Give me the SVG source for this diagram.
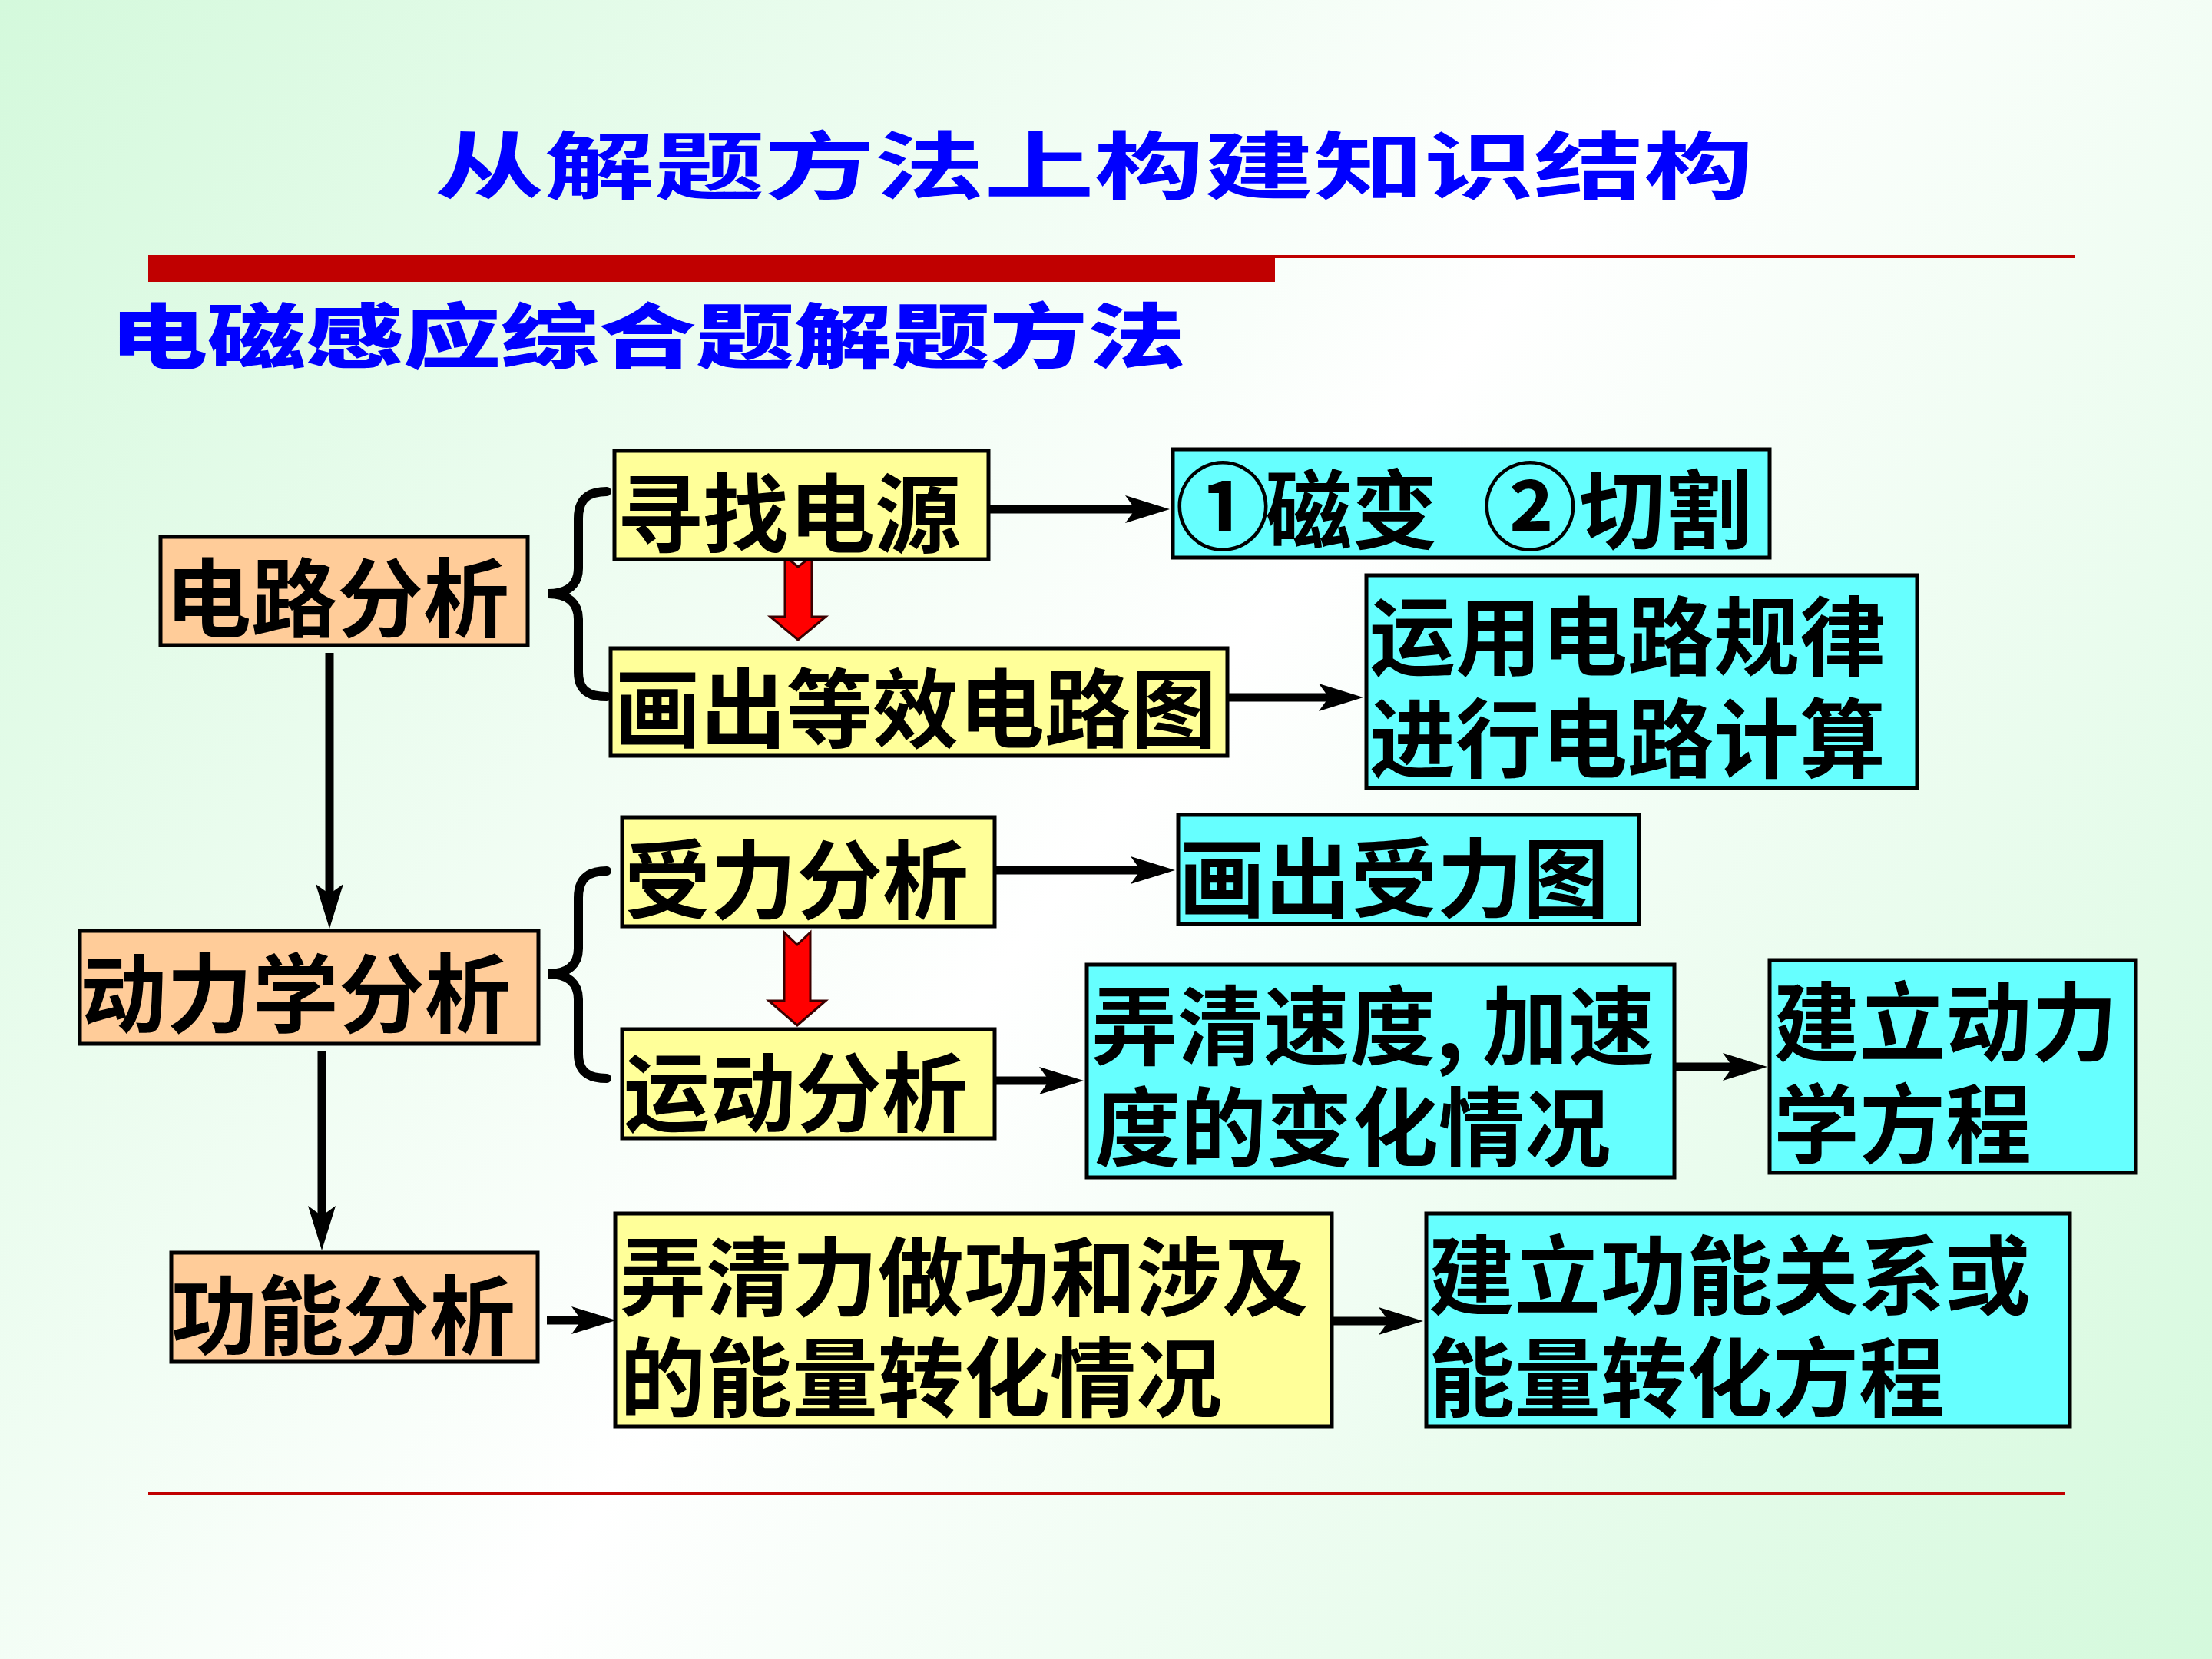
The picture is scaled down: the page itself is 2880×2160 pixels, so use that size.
<svg xmlns="http://www.w3.org/2000/svg" width="2880" height="2160" viewBox="0 0 2880 2160">
<defs>
<linearGradient id="bg" x1="0" y1="0" x2="2880" y2="2160" gradientUnits="userSpaceOnUse">
<stop offset="0" stop-color="#D4F9DC"/>
<stop offset="0.5" stop-color="#FFFFFF"/>
<stop offset="1" stop-color="#D4F9DC"/>
</linearGradient>
<marker id="ah" markerUnits="userSpaceOnUse" markerWidth="80" markerHeight="50" refX="0" refY="0" orient="auto" overflow="visible">
<path d="M45,0 L-13,-18 L0,0 L-13,18 Z" fill="#000"/>
</marker>
<style>
.box{stroke:#000;stroke-width:5}
.peach{fill:#FFCC99}
.yellow{fill:#FFFF99}
.cyan{fill:#66FFFF}
.t{font-family:"Noto Sans CJK SC","Noto Sans CJK TC",sans-serif;font-weight:700;font-size:112px;fill:#000}
.circ{font-size:124px}
.conn{stroke:#000;stroke-width:11;fill:none}
.brace{stroke:#000;stroke-width:12;fill:none;stroke-linecap:round}
.red{fill:#FF0000;stroke:#3A0000;stroke-width:3;stroke-linejoin:miter}
.ttl{font-family:"Noto Sans CJK SC",sans-serif;fill:#0000FF}
</style>
</defs>
<rect x="0" y="0" width="2880" height="2160" fill="url(#bg)"/>

<g id="header">
<text class="ttl" x="566" y="251" font-size="96" font-weight="700" textLength="1717" lengthAdjust="spacingAndGlyphs">从解题方法上构建知识结构</text>
<rect x="193" y="332" width="2509" height="4" fill="#C00000"/>
<rect x="193" y="334" width="1467" height="33" fill="#C00000"/>
<text class="ttl" x="143" y="472" font-size="92" font-weight="900" textLength="1400" lengthAdjust="spacingAndGlyphs">电磁感应综合题解题方法</text>
<rect x="193" y="1943" width="2496" height="4" fill="#C00000"/>
</g>

<g id="connectors">
<line class="conn" x1="1289" y1="663" x2="1478" y2="663" marker-end="url(#ah)"/>
<line class="conn" x1="1600" y1="908" x2="1730" y2="908" marker-end="url(#ah)"/>
<line class="conn" x1="1297" y1="1133" x2="1485" y2="1133" marker-end="url(#ah)"/>
<line class="conn" x1="1297" y1="1407" x2="1366" y2="1407" marker-end="url(#ah)"/>
<line class="conn" x1="2182" y1="1389" x2="2256" y2="1389" marker-end="url(#ah)"/>
<line class="conn" x1="712" y1="1719" x2="757" y2="1719" marker-end="url(#ah)"/>
<line class="conn" x1="1736" y1="1720" x2="1808" y2="1720" marker-end="url(#ah)"/>
<line class="conn" x1="429" y1="850" x2="429" y2="1164" marker-end="url(#ah)"/>
<line class="conn" x1="419" y1="1368" x2="419" y2="1583" marker-end="url(#ah)"/>
<path class="brace" d="M790,640 C765,640 753,650 753,675 L753,740 C753,760 740,773 714,773 C740,773 753,786 753,806 L753,875 C753,898 765,907 790,907"/>
<path class="brace" d="M790,1134 C765,1134 753,1144 753,1169 L753,1235 C753,1255 740,1268 714,1268 C740,1268 753,1281 753,1301 L753,1372 C753,1395 765,1404 790,1404"/>
<path class="red" d="M1022,724 L1039,738 L1057,724 L1057,803 L1075,803 L1039,833 L1003,803 L1022,803 Z"/>
<path class="red" d="M1021,1214 L1038,1230 L1055,1214 L1055,1303 L1075,1303 L1038,1335 L1001,1303 L1021,1303 Z"/>
</g>

<g id="n_circuit">
<rect class="box peach" x="209" y="699" width="478" height="141"/>
<text class="t" x="215" y="821">电路分析</text>
</g>
<g id="n_source">
<rect class="box yellow" x="800" y="587" width="487" height="141"/>
<text class="t" x="803" y="711">寻找电源</text>
</g>
<g id="n_equiv">
<rect class="box yellow" x="795" y="844" width="803" height="140"/>
<text class="t" x="800" y="965">画出等效电路图</text>
</g>
<g id="n_magnetic">
<rect class="box cyan" x="1527" y="585" width="777" height="141"/>
<text class="t" y="706"><tspan class="circ" x="1530">①</tspan><tspan x="1648">磁变</tspan><tspan class="circ" x="1930">②</tspan><tspan x="2056">切割</tspan></text>
</g>
<g id="n_laws">
<rect class="box cyan" x="1779" y="749" width="717" height="277"/>
<text class="t" x="1783" y="871">运用电路规律</text>
<text class="t" x="1783" y="1004">进行电路计算</text>
</g>
<g id="n_force">
<rect class="box yellow" x="810" y="1064" width="485" height="142"/>
<text class="t" x="813" y="1188">受力分析</text>
</g>
<g id="n_forcediagram">
<rect class="box cyan" x="1534" y="1061" width="600" height="142"/>
<text class="t" x="1535" y="1186">画出受力图</text>
</g>
<g id="n_dynamics">
<rect class="box peach" x="104" y="1212" width="597" height="147" stroke-width="7"/>
<text class="t" x="105" y="1336">动力学分析</text>
</g>
<g id="n_motion">
<rect class="box yellow" x="810" y="1340" width="485" height="142"/>
<text class="t" x="812" y="1465">运动分析</text>
</g>
<g id="n_velocity">
<rect class="box cyan" x="1415" y="1256" width="765" height="277"/>
<text class="t" y="1378"><tspan x="1421">弄清速度,</tspan><tspan x="1930">加速</tspan></text>
<text class="t" x="1425" y="1510">度的变化情况</text>
</g>
<g id="n_dyneq">
<rect class="box cyan" x="2304" y="1250" width="477" height="277"/>
<text class="t" x="2309" y="1373">建立动力</text>
<text class="t" x="2309" y="1506">学方程</text>
</g>
<g id="n_energy">
<rect class="box peach" x="223" y="1631" width="477" height="142"/>
<text class="t" x="223" y="1755">功能分析</text>
</g>
<g id="n_work">
<rect class="box yellow" x="801" y="1580" width="933" height="277"/>
<text class="t" x="807" y="1705">弄清力做功和涉及</text>
<text class="t" x="807" y="1836">的能量转化情况</text>
</g>
<g id="n_energyeq">
<rect class="box cyan" x="1857" y="1580" width="838" height="277"/>
<text class="t" x="1860" y="1703">建立功能关系或</text>
<text class="t" x="1860" y="1836">能量转化方程</text>
</g>
</svg>
